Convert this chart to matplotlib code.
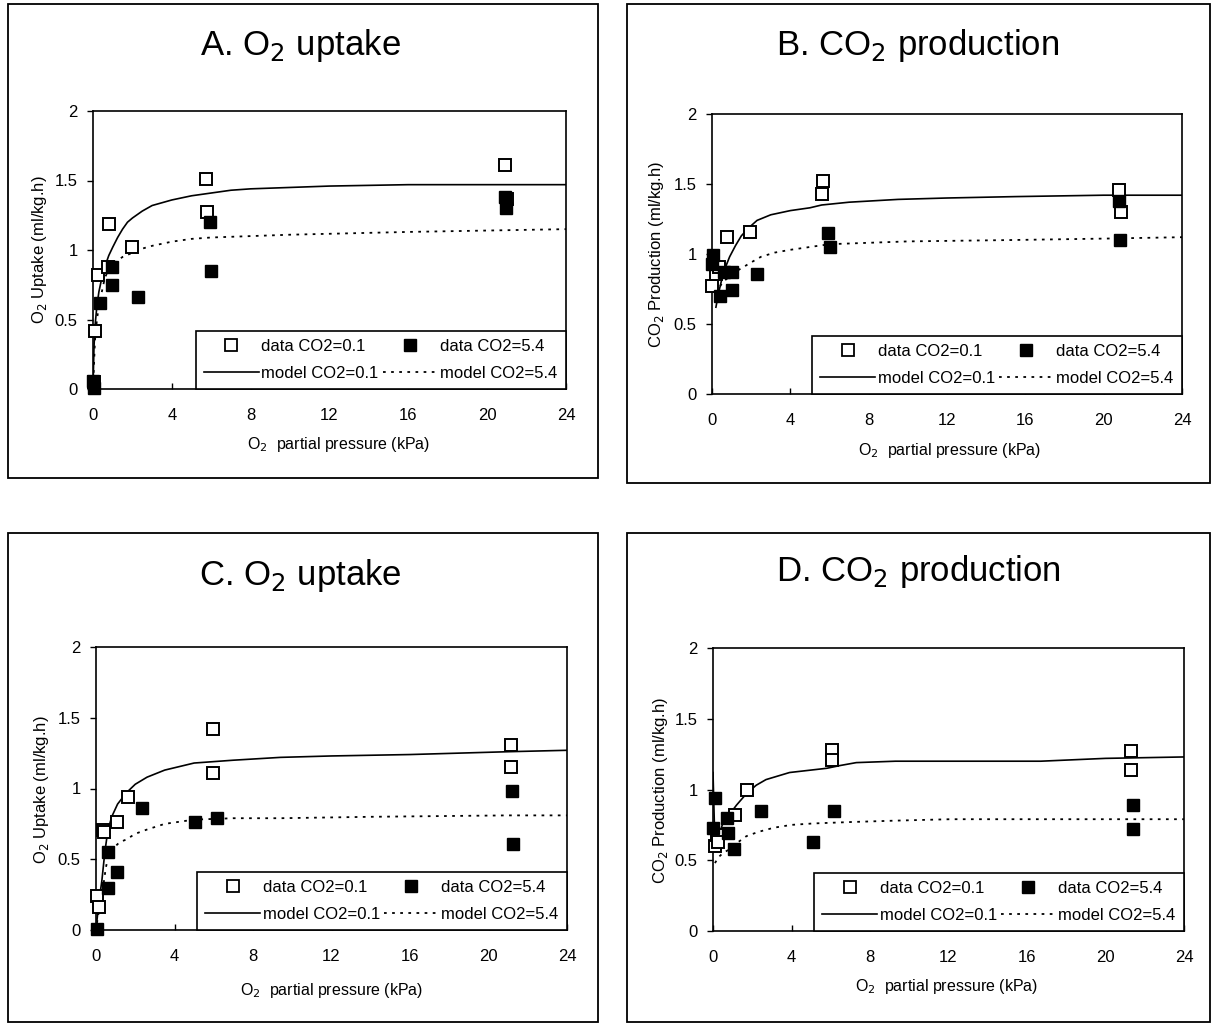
import matplotlib
matplotlib.use("Agg")
import matplotlib.pyplot as plt
from matplotlib.patches import Rectangle
from matplotlib.lines import Line2D

plt.rcParams['font.family'] = ['Liberation Sans', 'DejaVu Sans']

# ---------------- Data ----------------
titles = ["A. O$_2$ uptake", "B. CO$_2$ production", "C. O$_2$ uptake", "D. CO$_2$ production"]
ylabels = ["O$_2$ Uptake (ml/kg.h)", "CO$_2$ Production (ml/kg.h)",
           "O$_2$ Uptake (ml/kg.h)", "CO$_2$ Production (ml/kg.h)"]
xlabel = "O$_2$  partial pressure (kPa)"
xticks = [0, 4, 8, 12, 16, 20, 24]
yticks = [0, 0.5, 1, 1.5, 2]
yticklabels = ["0", "0.5", "1", "1.5", "2"]
legend_labels = ["data CO2=0.1", "data CO2=5.4", "model CO2=0.1", "model CO2=5.4"]

# Panel A
a_open_x = [0.05, 0.1, 0.27, 0.75, 0.83, 1.96, 5.74, 5.77, 20.9, 21.0]
a_open_y = [0.05, 0.42, 0.82, 0.88, 1.19, 1.02, 1.51, 1.27, 1.61, 1.37]
a_fill_x = [0.0, 0.05, 0.36, 0.95, 0.98, 2.3, 5.94, 5.99, 20.9, 20.95]
a_fill_y = [0.06, 0.01, 0.62, 0.88, 0.75, 0.66, 1.20, 0.85, 1.38, 1.30]
a_m1_x = [0, 0.05, 0.1, 0.2, 0.3, 0.45, 0.6, 0.8, 1.0, 1.25, 1.5, 1.75, 2, 2.5, 3, 3.5,
          4, 5, 6, 7, 8, 10, 12, 16, 20, 24]
a_m1_y = [0, 0.3, 0.45, 0.6, 0.7, 0.8, 0.88, 0.96, 1.02, 1.09, 1.15, 1.2, 1.23, 1.28, 1.32,
          1.34, 1.36, 1.39, 1.41, 1.43, 1.44, 1.45, 1.46, 1.47, 1.47, 1.47]
a_m2_x = [0, 0.1, 0.2, 0.3, 0.45, 0.6, 0.8, 1, 1.5, 2, 2.5, 3, 4, 5, 6, 8, 10, 13, 16, 20, 24]
a_m2_y = [0, 0.35, 0.5, 0.6, 0.7, 0.8, 0.86, 0.9, 0.95, 0.98, 1.01, 1.03, 1.06, 1.08, 1.09,
          1.10, 1.11, 1.12, 1.13, 1.14, 1.15]

# Panel B
b_open_x = [0.0, 0.2, 0.36, 0.78, 1.92, 5.62, 5.67, 20.8, 20.9]
b_open_y = [0.77, 0.86, 0.91, 1.12, 1.16, 1.43, 1.52, 1.46, 1.30]
b_fill_x = [0.0, 0.05, 0.4, 0.6, 1.0, 1.0, 2.3, 5.9, 6.0, 20.8, 20.85]
b_fill_y = [0.93, 0.99, 0.70, 0.87, 0.87, 0.74, 0.86, 1.15, 1.05, 1.38, 1.10]
b_m1_x = [0.2, 0.35, 0.5, 0.7, 0.9, 1.2, 1.5, 1.9, 2.3, 3, 4, 5, 5.6, 7, 9.5, 12, 15.5, 20, 24]
b_m1_y = [0.62, 0.73, 0.82, 0.91, 0.98, 1.06, 1.13, 1.19, 1.24, 1.28, 1.31, 1.33, 1.35, 1.37,
          1.39, 1.40, 1.41, 1.42, 1.42]
b_m2_x = [0.2, 0.55, 1.0, 1.4, 2, 2.5, 3.2, 4, 5, 6, 8, 10, 15.4, 20, 24]
b_m2_y = [0.72, 0.80, 0.85, 0.89, 0.94, 0.98, 1.01, 1.03, 1.05, 1.07, 1.08, 1.09, 1.10, 1.11, 1.12]

# Panel C
c_open_x = [0.07, 0.17, 0.37, 0.4, 1.05, 1.65, 5.95, 5.95, 21.15, 21.15]
c_open_y = [0.24, 0.165, 0.71, 0.69, 0.76, 0.94, 1.42, 1.11, 1.31, 1.15]
c_fill_x = [0.07, 0.63, 0.63, 1.05, 2.36, 5.04, 6.15, 21.2, 21.25]
c_fill_y = [0.01, 0.30, 0.55, 0.41, 0.86, 0.76, 0.79, 0.98, 0.61]
c_m1_x = [0.05, 0.15, 0.3, 0.45, 0.6, 0.8, 1.1, 1.55, 2, 2.6, 3.5, 5, 7, 9.4, 12, 16, 21, 24]
c_m1_y = [0.07, 0.2, 0.35, 0.55, 0.7, 0.8, 0.89, 0.97, 1.03, 1.08, 1.13, 1.18, 1.20, 1.22,
          1.23, 1.24, 1.26, 1.27]
c_m2_x = [0.05, 0.2, 0.37, 0.5, 0.63, 0.9, 1.2, 1.55, 2, 2.6, 3.5, 5, 7, 9.4, 14, 21, 24]
c_m2_y = [0.05, 0.18, 0.31, 0.44, 0.52, 0.58, 0.62, 0.64, 0.68, 0.71, 0.75, 0.78, 0.79, 0.79,
          0.80, 0.81, 0.81]

# Panel D
d_open_x = [0.1, 0.19, 0.25, 1.12, 1.72, 6.05, 6.05, 21.3, 21.3]
d_open_y = [0.60, 0.68, 0.63, 0.82, 1.00, 1.28, 1.21, 1.27, 1.14]
d_fill_x = [0.0, 0.1, 0.7, 0.78, 1.07, 2.43, 5.11, 6.17, 21.4, 21.4]
d_fill_y = [0.73, 0.94, 0.80, 0.69, 0.58, 0.85, 0.63, 0.85, 0.89, 0.72]
d_m1_x = [0.0, 0.1, 0.3, 0.5, 0.87, 1.2, 1.7, 2.2, 2.7, 3.9, 5.8, 6.5, 7.3, 9.3, 12, 16.7, 20, 24]
d_m1_y = [1.12, 0.60, 0.68, 0.76, 0.83, 0.89, 0.97, 1.03, 1.07, 1.12, 1.15, 1.17, 1.19, 1.20,
          1.20, 1.20, 1.22, 1.23]
d_m2_x = [0.1, 0.27, 0.5, 0.87, 1.2, 1.7, 2.3, 3.1, 4, 5.1, 7, 9.3, 12.1, 24]
d_m2_y = [0.48, 0.52, 0.55, 0.58, 0.62, 0.67, 0.70, 0.73, 0.75, 0.76, 0.77, 0.78, 0.79, 0.79]

panels = [
    (a_open_x, a_open_y, a_fill_x, a_fill_y, a_m1_x, a_m1_y, a_m2_x, a_m2_y),
    (b_open_x, b_open_y, b_fill_x, b_fill_y, b_m1_x, b_m1_y, b_m2_x, b_m2_y),
    (c_open_x, c_open_y, c_fill_x, c_fill_y, c_m1_x, c_m1_y, c_m2_x, c_m2_y),
    (d_open_x, d_open_y, d_fill_x, d_fill_y, d_m1_x, d_m1_y, d_m2_x, d_m2_y),
]

# ---------------- Layout (pixels) ----------------
W, H = 1213, 1025
fig = plt.figure(figsize=(W / 100, H / 100), dpi=100)

def fx(px):
    return px / W

def fy(py):
    return 1 - py / H

ax_px = [(93, 566, 389, 111), (712, 1182, 394, 114), (96, 567, 930, 647), (713, 1184, 931, 648)]
box_px = [(8, 598, 4, 478), (627, 1210, 4, 483), (8, 598, 533, 1022), (627, 1210, 533, 1022)]
title_px = [(300, 46), (918, 45), (300, 575), (918, 572)]
xlab_px = [(339, 445), (950, 450), (332, 990), (947, 987)]
ylab_px = [(40, 250), (657, 254), (42, 790), (660, 790)]

DOT = (0, (1.5, 3))

for i in range(4):
    bx0, bx1, by0, by1 = box_px[i]
    fig.patches.append(Rectangle((fx(bx0), fy(by1)), fx(bx1) - fx(bx0), fy(by0) - fy(by1),
                                 transform=fig.transFigure, fill=False, edgecolor='black',
                                 linewidth=1.3))
    x0, x1, y0, y1 = ax_px[i]
    ax = fig.add_axes([fx(x0), fy(y0), fx(x1) - fx(x0), fy(y1) - fy(y0)])
    ox, oy, fxd, fyd, m1x, m1y, m2x, m2y = panels[i]
    ax.plot(m1x, m1y, color='black', lw=1.2, zorder=2)
    ax.plot(m2x, m2y, color='black', lw=1.3, linestyle=DOT, zorder=2)
    ax.plot(ox, oy, linestyle='none', marker='s', ms=9, mfc='white', mec='black', mew=1.4,
            zorder=3, clip_on=False)
    ax.plot(fxd, fyd, linestyle='none', marker='s', ms=9, mfc='black', mec='black',
            zorder=3, clip_on=False)
    ax.set_xlim(0, 24)
    ax.set_ylim(0, 2)
    ax.set_xticks(xticks)
    ax.set_yticks(yticks)
    ax.set_yticklabels(yticklabels)
    ax.tick_params(axis='x', labelsize=12, length=4, width=1, direction='in', pad=14)
    ax.tick_params(axis='y', labelsize=12, length=4, width=1, direction='out', pad=7)
    for s in ax.spines.values():
        s.set_linewidth(1.2)
    fig.text(fx(title_px[i][0]), fy(title_px[i][1]), titles[i], fontsize=25,
             ha='center', va='center')
    fig.text(fx(xlab_px[i][0]), fy(xlab_px[i][1]), xlabel, fontsize=11.5,
             ha='center', va='center')
    fig.text(fx(ylab_px[i][0]), fy(ylab_px[i][1]), ylabels[i], fontsize=12,
             ha='center', va='center', rotation=90)

    handles = [
        Line2D([], [], linestyle='none', marker='s', ms=8, mfc='white', mec='black', mew=1.3),
        Line2D([], [], linestyle='none', marker='s', ms=8, mfc='black', mec='black'),
        Line2D([], [], color='black', lw=1.2),
        Line2D([], [], color='black', lw=1.3, linestyle=DOT),
    ]
    order = [0, 2, 1, 3]
    leg = ax.legend([handles[k] for k in order], [legend_labels[k] for k in order],
                    ncol=2, loc='lower right', bbox_to_anchor=(1.0, 0.0),
                    borderaxespad=0, fontsize=12, frameon=True, fancybox=False,
                    edgecolor='black', handlelength=3.3, handletextpad=0.15,
                    columnspacing=0.25, borderpad=0.5, labelspacing=0.7)
    leg.get_frame().set_linewidth(1.2)
    leg.get_frame().set_alpha(1)

fig.savefig("out.png", dpi=100)
